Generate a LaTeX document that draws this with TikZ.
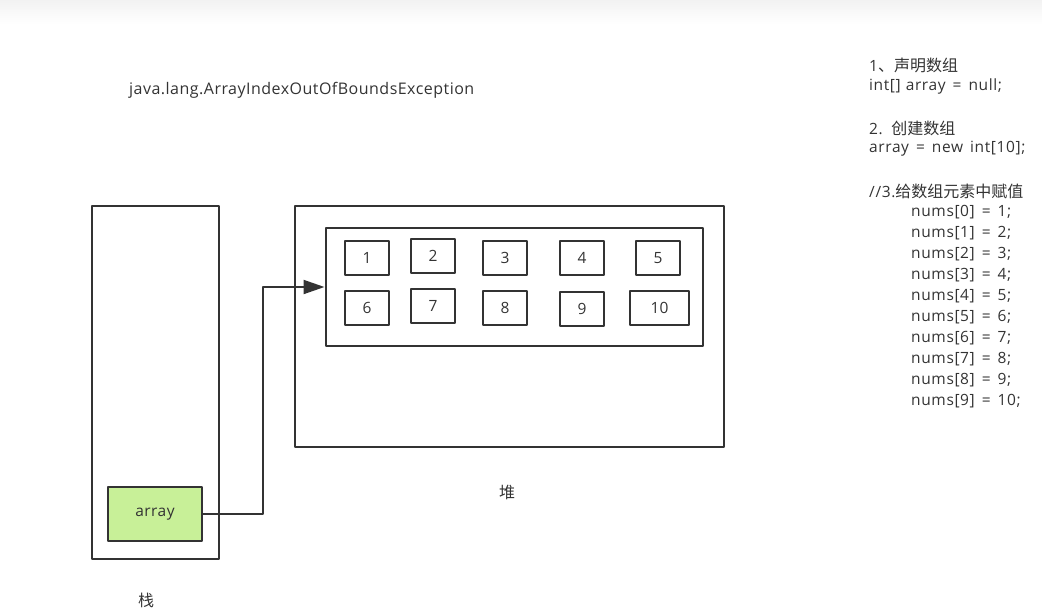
\documentclass[tikz,border=0pt]{standalone}
\usepackage{fontspec}
\setmainfont{Open Sans}
\newfontfamily\cjk{Noto Sans CJK SC}
\newfontfamily\widefont[LetterSpace=3]{Open Sans}
\newfontfamily\codefamily[LetterSpace=4]{Open Sans}
\newcommand\codefont{\codefamily\fontsize{15.5}{21}\selectfont\spaceskip=7pt\relax}
\newcommand\cjkcode[1]{{\cjk\fontsize{16}{21}\selectfont #1}}
\usetikzlibrary{arrows.meta}
\definecolor{linecolor}{RGB}{51, 51, 51}
\definecolor{textcolor}{RGB}{51, 51, 51}
\definecolor{cellgreen}{RGB}{200, 240, 152}
\tikzset{
	box/.style={draw=linecolor, line width=2pt, inner sep=0pt, text=textcolor},
	cell/.style={box, minimum width=44pt, minimum height=34pt, font=\fontsize{15.5}{15.5}\selectfont},
	codeline/.style={anchor=west, inner sep=0pt, text=textcolor, font=\codefont},
	label/.style={inner sep=0pt, text=textcolor, font=\fontsize{16}{16}\selectfont}
}
\begin{document}
\begin{tikzpicture}[x=1pt, y=-1pt, line cap=round, line join=round]
	\useasboundingbox (0, 0) rectangle (1042, 614);
	\shade[top color=black!5, bottom color=white] (0, 0) rectangle (1042, 24);
	% title
	\node[label, anchor=west, font=\widefont\fontsize{16}{16}\selectfont] (title) at (129, 90) {java.lang.ArrayIndexOutOfBoundsException};
	% stack
	\node[box, minimum width=127pt, minimum height=353pt] (stack) at (155, 382) {};
	\node[box, fill=cellgreen, minimum width=94pt, minimum height=54pt, font=\widefont\fontsize{15.5}{15.5}\selectfont] (arr) at (155, 514) {\raisebox{-1.5pt}{array}};
	\node[label] (stacklabel) at (146, 600) {\cjk 栈};
	% heap
	\node[box, minimum width=429pt, minimum height=241pt] (heap) at (509, 326.5) {};
	\node[box, minimum width=377pt, minimum height=118pt] (inner) at (514, 287) {};
	\node[label] (heaplabel) at (507, 492) {\cjk 堆};
	\node[cell] (c1) at (367, 257.5) {1};
	\node[cell] (c2) at (433, 256) {2};
	\node[cell] (c3) at (505, 257.5) {3};
	\node[cell] (c4) at (582, 258) {4};
	\node[cell] (c5) at (658, 258) {5};
	\node[cell] (c6) at (367, 307.5) {6};
	\node[cell] (c7) at (433, 306) {7};
	\node[cell] (c8) at (505, 307.5) {8};
	\node[cell] (c9) at (582, 308.5) {9};
	\node[cell, minimum width=59pt] (c10) at (659.5, 308) {10};
	% reference
	\coordinate (bend) at (263, 514);
	\draw[linecolor, line width=2pt, -{Triangle[length=21pt, width=14pt]}] (arr.east) -- (bend) |- (inner.west);
	% code
	\node[codeline] (l1) at (869, 65) {1\cjkcode{、声明数组}};
	\node[codeline] (l2) at (869, 86) {int[]\hspace{-2pt} array = null;};
	\node[codeline] (l3) at (869, 128) {2. \cjkcode{创建数组}};
	\node[codeline] (l4) at (869, 149) {array = new int[10];};
	\node[codeline] (l5) at (869, 191) {//3.\cjkcode{给数组元素中赋值}};
	\foreach \i in {0,...,9} {
		\pgfmathtruncatemacro{\val}{\i+1}
		\node[codeline] (n\i) at (911, 212+21*\i) {nums[\i] = \val;};
	}
\end{tikzpicture}
\end{document}
